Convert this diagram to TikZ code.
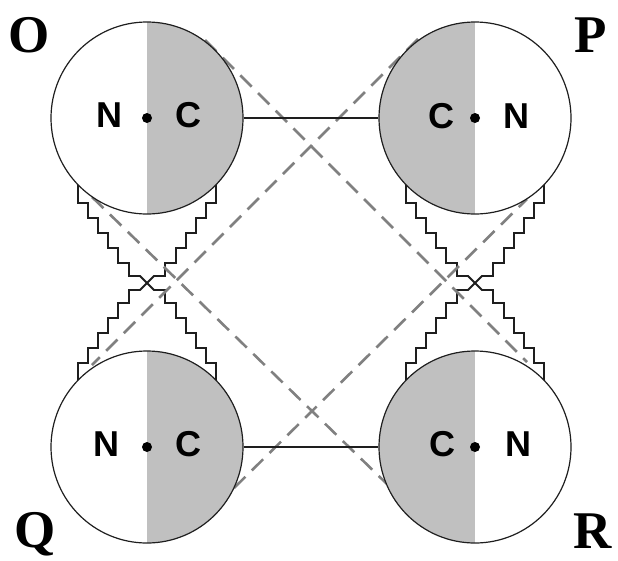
\documentclass[tikz,border=0pt]{standalone}
\usepackage{fontspec}
\setmainfont{Liberation Serif}
\newfontfamily\sansfont{Liberation Sans}
\definecolor{cgray}{RGB}{192,192,192}
\definecolor{dgray}{RGB}{128,128,128}
\definecolor{lineg}{RGB}{30,30,30}
\tikzset{
 ball/.style={circle, minimum size=192pt, inner sep=0pt, draw=lineg, line width=1.2pt, fill=white},
 grayright/.style={path picture={\fill[cgray] (path picture bounding box.north) rectangle (path picture bounding box.south east);}},
 grayleft/.style={path picture={\fill[cgray] (path picture bounding box.north) rectangle (path picture bounding box.south west);}},
 lett/.style={font=\sansfont\bfseries\fontsize{36}{36}\selectfont, anchor=base, inner sep=0pt},
 big/.style={font=\bfseries\fontsize{53}{53}\selectfont, anchor=base, inner sep=0pt},
 tang/.style={dgray, line width=2.6pt, dash pattern=on 16pt off 9pt},
 stair/.style={lineg, line width=1.8pt, line join=miter},
 link/.style={lineg, line width=1.2pt},
}
\newcommand\stairpath{(-69,-103) -- ++(0,23) -- ++(10,0) -- ++(0,15) -- ++(10,0) -- ++(0,15) -- ++(10,0) -- ++(0,15) -- ++(10,0) -- ++(0,15) -- ++(11,0) -- ++(0,13) -- ++(11,0) -- ++(14,14) -- ++(11,0) -- ++(0,13) -- ++(11,0) -- ++(0,15) -- ++(10,0) -- ++(0,15) -- ++(10,0) -- ++(0,15) -- ++(10,0) -- ++(0,15) -- ++(10,0) -- ++(0,23)}
\begin{document}
\begin{tikzpicture}[x=1pt, y=-1pt]
\useasboundingbox (0,0) rectangle (618,560);
% staircases
\foreach \cx in {147,475}{
 \begin{scope}[shift={(\cx,283)}]
  \draw[stair] \stairpath;
  \begin{scope}[xscale=-1]
   \draw[stair] \stairpath;
  \end{scope}
 \end{scope}
}
% dashed tangent lines
\coordinate (a1) at (205,40);
\coordinate (a2) at (527,362);
\coordinate (b1) at (418,39);
\coordinate (b2) at (92,365);
\coordinate (c1) at (234,488);
\coordinate (c2) at (527,199);
\coordinate (d1) at (92,197);
\coordinate (d2) at (387,484);
\draw[tang] (a1) -- (a2);
\draw[tang] (b1) -- (b2);
\draw[tang] (c1) -- (c2);
\draw[tang] (d1) -- (d2);
% circles
\node[ball, grayright] (O) at (147,118) {};
\node[ball, grayleft] (P) at (475,118) {};
\node[ball, grayright] (Q) at (147,447) {};
\node[ball, grayleft] (R) at (475,447) {};
\draw[link] (O) -- (P);
\draw[link] (Q) -- (R);
\foreach \n in {O,P,Q,R}{\fill[black] (\n.center) circle (5pt);}
\node[lett] (On) at (109,127) {N};
\node[lett] (Oc) at (188,127) {C};
\node[lett] (Pc) at (441,128) {C};
\node[lett] (Pn) at (516,128) {N};
\node[lett] (Qn) at (106,456) {N};
\node[lett] (Qc) at (188,456) {C};
\node[lett] (Rc) at (442,456) {C};
\node[lett] (Rn) at (518,456) {N};
% labels
\node[big] (lO) at (29,52) {O};
\node[big] (lP) at (591,52) {P};
\node[big] (lQ) at (35,547) {Q};
\node[big] (lR) at (593,548) {R};
\end{tikzpicture}
\end{document}
